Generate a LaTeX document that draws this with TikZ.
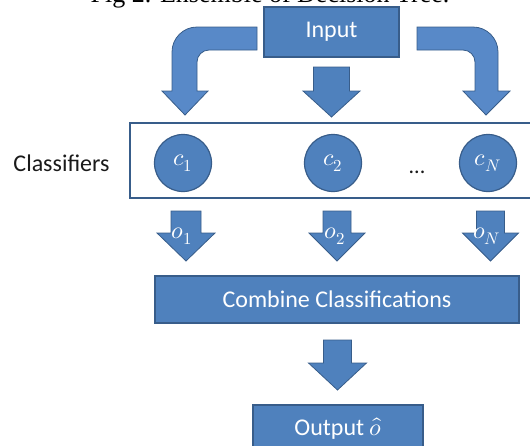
\documentclass[tikz,border=0pt]{standalone}
\usepackage{fontspec}
\usepackage{unicode-math}
\setmainfont{Carlito}
\setmathfont{Latin Modern Math}
\newfontfamily\capfont{Liberation Serif}
\definecolor{boxfill}{HTML}{4F81BD}
\definecolor{boxline}{HTML}{385D8A}
\definecolor{curvefill}{HTML}{5889C8}
\definecolor{labeltext}{HTML}{1A1A1A}
\newcommand\blockarr[6]{%
  \draw[blockarrow] ({#1-#3},#2) -- ({#1+#3},#2) -- ({#1+#3},#5) -- ({#1+#4},#5)
    -- (#1,#6) -- ({#1-#4},#5) -- ({#1-#3},#5) -- cycle;}
\begin{document}
\begin{tikzpicture}[x=1pt,y=-1pt,
  box/.style={draw=boxline, line width=1.2pt, fill=boxfill, text=white,
    font=\fontsize{24}{28}\selectfont, inner sep=0pt},
  blockarrow/.style={draw=boxline, line width=0.8pt, fill=boxfill, line join=miter},
  curvearrow/.style={draw=boxline, line width=0.8pt, fill=curvefill, line join=miter},
  clf/.style={circle, draw=boxline, line width=1.2pt, fill=boxfill, text=white,
    minimum size=57pt, inner sep=0pt, font=\fontsize{24}{28}\selectfont},
  lbl/.style={text=white, font=\fontsize{24}{28}\selectfont, inner sep=0pt}]
\useasboundingbox (0,0) rectangle (530,445);
\clip (0,0) rectangle (530,445);
% caption (cut off at the top)
\node[anchor=base, font=\capfont\fontsize{26}{30}\selectfont, inner sep=0pt] (caption)
  at (270,2) {Fig 2. Ensemble of Decision Tree.};
% input
\node[box, minimum width=135pt, minimum height=50pt] (input) at (331.5,32) {Input};
% curved arrows
\draw[curvearrow] (257,27) -- (197,27) .. controls (183.2,27) and (172,38.2) .. (172,52)
  -- (172,91) -- (162,91) -- (185,115) -- (208,91) -- (197,91) -- (197,62)
  .. controls (197,55.4) and (202.4,50) .. (209,50) -- (257,50) -- cycle;
\draw[curvearrow] (417,27) -- (473,27) .. controls (486.8,27) and (498,38.2) .. (498,52)
  -- (498,91) -- (510,91) -- (486,115) -- (463,91) -- (475,91) -- (475,62)
  .. controls (475,55.4) and (469.6,50) .. (463,50) -- (417,50) -- cycle;
\blockarr{331.5}{67}{18}{28.5}{91}{117}
% classifiers
\node[draw=boxline, line width=1.6pt, fill=white, minimum width=405pt, minimum height=75pt,
  inner sep=0pt] (clbox) at (332.5,160.5) {};
\node[text=labeltext, font=\fontsize{24}{28}\selectfont, inner sep=0pt] (clab) at (61.5,163) {Classifiers};
\node[clf] (c1) at (183,163) {$c_1$};
\node[clf] (c2) at (333,163) {$c_2$};
\node[clf] (cN) at (488,163) {$c_N$};
\node[anchor=base, text=labeltext, font=\fontsize{22}{26}\selectfont, inner sep=0pt] (dots) at (417,173) {...};
% outputs of classifiers
\blockarr{186}{211}{15}{29}{233}{261}
\blockarr{337}{211}{14}{28}{233}{261}
\blockarr{490.5}{211}{14}{28}{233}{261}
\node[lbl] (o1) at (182,236) {$o_1$};
\node[lbl] (o2) at (335,236) {$o_2$};
\node[lbl] (oN) at (487,236) {$o_N$};
% combine
\node[box, minimum width=364pt, minimum height=47pt] (comb) at (337,299.5) {Combine Classifications};
\blockarr{337.5}{340}{14}{29}{363}{390}
% output
\node[box, minimum width=170pt, minimum height=47pt] (out) at (338,428.5) {Output $\hat{o}$};
\end{tikzpicture}
\end{document}
